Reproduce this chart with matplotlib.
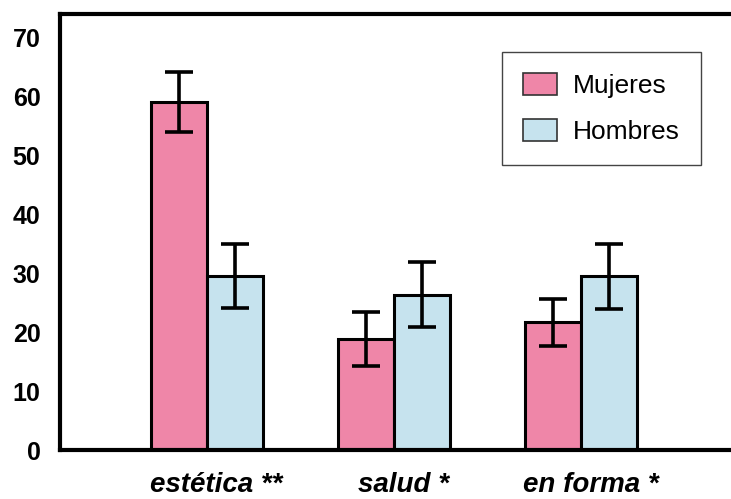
import numpy as np
import matplotlib.pyplot as plt
from matplotlib.patches import Patch

categories = ['estética **', 'salud *', 'en forma *']
mujeres = [59.0, 18.8, 21.7]
mujeres_err = [5.1, 4.6, 4.0]
hombres = [29.5, 26.4, 29.5]
hombres_err = [5.4, 5.5, 5.5]

PINK = '#EF86A8'
BLUE = '#C6E3EE'

plt.rcParams['font.family'] = ['Liberation Sans Narrow', 'Liberation Sans', 'DejaVu Sans']

fig = plt.figure(figsize=(7.31, 4.99), dpi=100)
ax = fig.add_axes([0.082, 0.098, 0.918, 0.874])

x = np.arange(len(categories))
w = 0.30
err_kw = dict(ecolor='black', elinewidth=2.6, capsize=10, capthick=2.6)
ax.bar(x - w / 2, mujeres, w, yerr=mujeres_err, color=PINK, edgecolor='black',
       linewidth=2.2, error_kw=err_kw, zorder=2)
ax.bar(x + w / 2, hombres, w, yerr=hombres_err, color=BLUE, edgecolor='black',
       linewidth=2.2, error_kw=err_kw, zorder=2)

ax.set_ylim(0, 74)
ax.set_xlim(-0.786, 2.80)
ax.set_yticks(range(0, 80, 10))
ax.set_yticklabels([str(v) for v in range(0, 80, 10)], fontsize=18, fontweight='bold')
ax.set_xticks(x + 0.05)
ax.set_xticklabels(categories, fontsize=20, fontweight='bold', style='italic')
ax.tick_params(axis='y', length=0, pad=14)
ax.tick_params(axis='x', length=0, pad=16)

ax.spines['right'].set_visible(False)
for s in ['left', 'top', 'bottom']:
    ax.spines[s].set_linewidth(3)

handles = [Patch(facecolor=PINK, edgecolor='#333333', linewidth=1.2, label='Mujeres'),
           Patch(facecolor=BLUE, edgecolor='#333333', linewidth=1.2, label='Hombres')]
leg = fig.legend(handles=handles, loc='upper left', bbox_to_anchor=(502 / 731, 1 - 52 / 499),
                 frameon=True, fancybox=False, edgecolor='#444444', framealpha=1,
                 prop={'family': 'Liberation Sans', 'size': 19},
                 handlelength=1.3, handleheight=0.9, labelspacing=0.8,
                 borderpad=0.8, handletextpad=0.6, borderaxespad=0)
leg.get_frame().set_linewidth(1.0)

fig.savefig('out.png', dpi=100)
